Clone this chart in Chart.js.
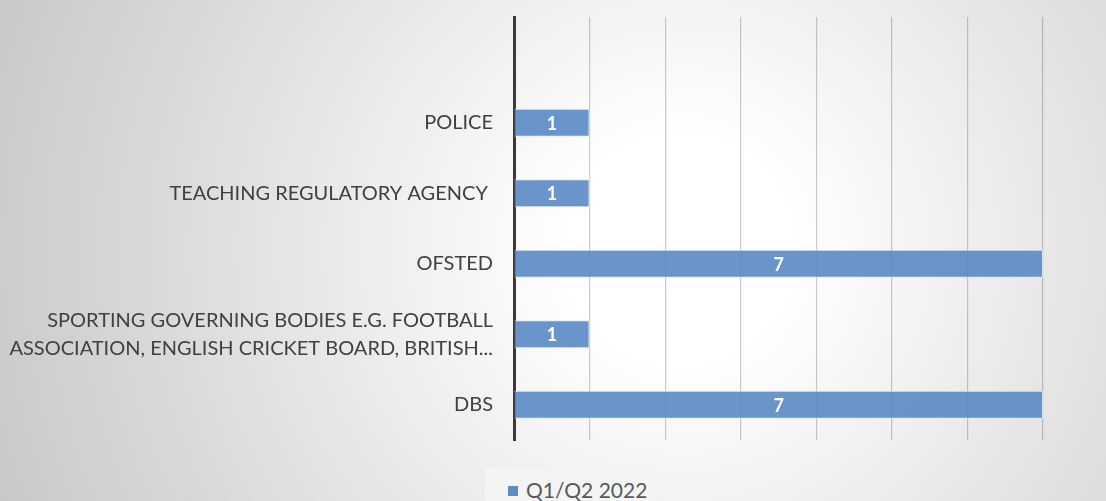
<!DOCTYPE html>
<html>
<head>
<meta charset="utf-8">
<script src="https://cdn.jsdelivr.net/npm/chart.js@4/dist/chart.umd.min.js"></script>
<style>
  html, body { margin:0; padding:0; }
  body {
    width:1106px; height:501px; overflow:hidden; position:relative;
    background: radial-gradient(circle at 680px 250px, #ffffff 0px, #ffffff 110px, #d8d8d8 540px, #c4c4c4 780px);
  }
  #wrap { position:absolute; left:0; top:0; width:1106px; height:501px; }
  .legend {
    position:absolute; left:485px; top:468px; width:172px; height:40px;
    background:#f4f4f4; font-family:Lato, "Open Sans", sans-serif; font-size:21px; color:#595959;
  }
  .legend .box { position:absolute; left:23px; top:18px; width:10px; height:10px; background:#5b8ac5; }
  .legend .txt { position:absolute; left:41px; top:9px; line-height:26px; }
</style>
</head>
<body>
<div id="wrap"><canvas id="chart" width="1106" height="501"></canvas></div>
<div class="legend"><span class="box"></span><span class="txt">Q1/Q2 2022</span></div>
<script>
// Data
const categories = [
  "",
  "POLICE",
  "TEACHING REGULATORY AGENCY ",
  "OFSTED",
  ["SPORTING GOVERNING BODIES E.G. FOOTBALL", "ASSOCIATION, ENGLISH CRICKET BOARD, BRITISH..."],
  "DBS"
];
const seriesName = "Q1/Q2 2022";
const values = [null, 1, 1, 7, 1, 7];
const xTicks = [0, 1, 2, 3, 4, 5, 6, 7];

// Value labels inside the bars
const barLabels = {
  id: "barLabels",
  afterDatasetsDraw(chart){
    const ctx = chart.ctx;
    const meta = chart.getDatasetMeta(0);
    ctx.save();
    ctx.fillStyle = "#ffffff";
    ctx.font = "bold 18px Lato, 'Open Sans', sans-serif";
    ctx.textAlign = "center";
    ctx.textBaseline = "middle";
    meta.data.forEach((bar, i)=>{
      if(values[i] == null) return;
      ctx.fillText(values[i], (bar.x + bar.base)/2, bar.y + 1);
    });
    ctx.restore();
  }
};

const ctx = document.getElementById("chart").getContext("2d");
new Chart(ctx, {
  type: "bar",
  data: {
    labels: categories,
    datasets: [{
      label: seriesName,
      data: values,
      backgroundColor: "rgba(84,134,196,0.88)",
      borderColor: "rgba(220,232,246,0.9)",
      borderWidth: 1,
      barPercentage: 0.4,
      categoryPercentage: 1
    }]
  },
  options: {
    indexAxis: "y",
    responsive: false,
    animation: false,
    layout: { padding: { left: 0, top: 17, right: 63, bottom: 61 } },
    plugins: { legend: { display: false }, tooltip: { enabled: false } },
    scales: {
      x: {
        min: xTicks[0],
        max: xTicks[xTicks.length - 1],
        afterBuildTicks: (scale)=>{ scale.ticks = xTicks.map(v=>({ value: v })); },
        ticks: { display: false },
        grid: { color: "rgba(0,0,0,0.2)", lineWidth: 1.2, drawTicks: false },
        border: { display: false }
      },
      y: {
        afterFit: (scale)=>{ scale.width = 514; scale.paddingTop = 0; scale.paddingBottom = 0; },
        ticks: {
          color: "#404040",
          padding: 21,
          font: { family: "Lato, 'Open Sans', sans-serif", size: 20, lineHeight: 1.4 }
        },
        grid: { display: false, drawTicks: false },
        border: { display: true, color: "#3a3a3a", width: 3 }
      }
    }
  },
  plugins: [barLabels]
});
</script>
</body>
</html>
